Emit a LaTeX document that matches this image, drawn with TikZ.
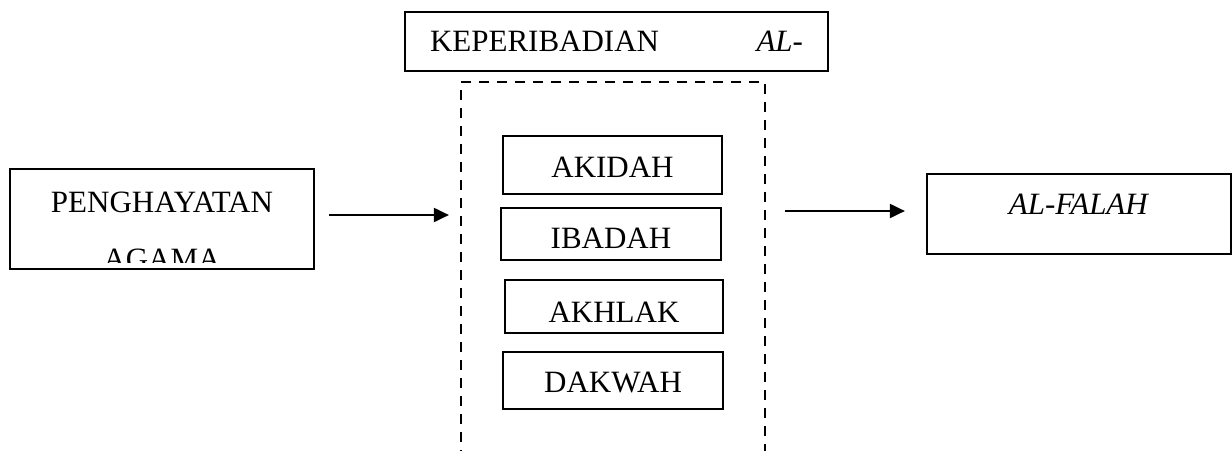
\documentclass[tikz,border=0pt]{standalone}
\usepackage{fontspec}
\setmainfont{Liberation Serif}
\usetikzlibrary{arrows.meta,positioning}

\begin{document}
\begin{tikzpicture}[x=1pt,y=-1pt,line width=2.2pt,
                    >={Triangle[length=15pt,width=14pt]}]
	  \tikzstyle{every node}=[font=\fontsize{31}{37}\selectfont,inner sep=0pt]
	  \tikzstyle{kotak}=[draw=black,text=black,minimum width=219pt,minimum height=55pt]
	  \tikzstyle{isi}=[kotak,text depth=0pt]
	  \tikzstyle{garis}=[draw=black,line width=2pt,->]
	  \clip (0,0) rectangle (1232,450);

	  \node[kotak,minimum width=423pt,minimum height=59pt,text width=373pt] (judul) at (616.5,41.5) {\noindent KEPERIBADIAN\hfill\textit{AL-}};
	  \node[draw=black,dash pattern=on 10pt off 8pt,minimum width=304pt,minimum height=392pt] (dimensi) at (613,278) {};

	  \node[isi,minimum height=58pt,text height=24.5pt] (akidah) at (612.5,165)   {AKIDAH};
	  \node[isi,minimum width=220pt,minimum height=52pt,text height=29.5pt] (ibadah) at (611,234) {IBADAH};
	  \node[isi,minimum width=218pt,minimum height=53pt,text height=31.5pt] (akhlak) at (614,306.5) {AKHLAK};
	  \node[isi,minimum width=220pt,minimum height=57pt,text height=24.5pt] (dakwah) at (613,380.5) {DAKWAH};

	  % kotak kiri, teks terpotong di bawah
	  \node[kotak,minimum width=304pt,minimum height=100pt] (penghayatan) at (162,219) {};
	  \begin{scope}
	    \clip (penghayatan.north west) rectangle ([yshift=8pt]penghayatan.south east);
	    \node[anchor=base] (baris1) at (162,212) {PENGHAYATAN};
	    \node[anchor=base] (baris2) at (162,269) {AGAMA};
	  \end{scope}

	  \node[kotak,minimum width=304pt,minimum height=80pt,text height=21pt,text depth=20pt] (falah) at (1079,214) {\textit{AL-FALAH}};

	  \draw[garis] ([xshift=14pt,yshift=4pt]penghayatan.east) -- ([xshift=-11pt,yshift=4pt]dimensi.west |- penghayatan.east);
	  \draw[garis] ([xshift=19pt,yshift=3pt]dimensi.east |- falah.west) -- ([xshift=-21pt,yshift=3pt]falah.west);
\end{tikzpicture}
\end{document}
